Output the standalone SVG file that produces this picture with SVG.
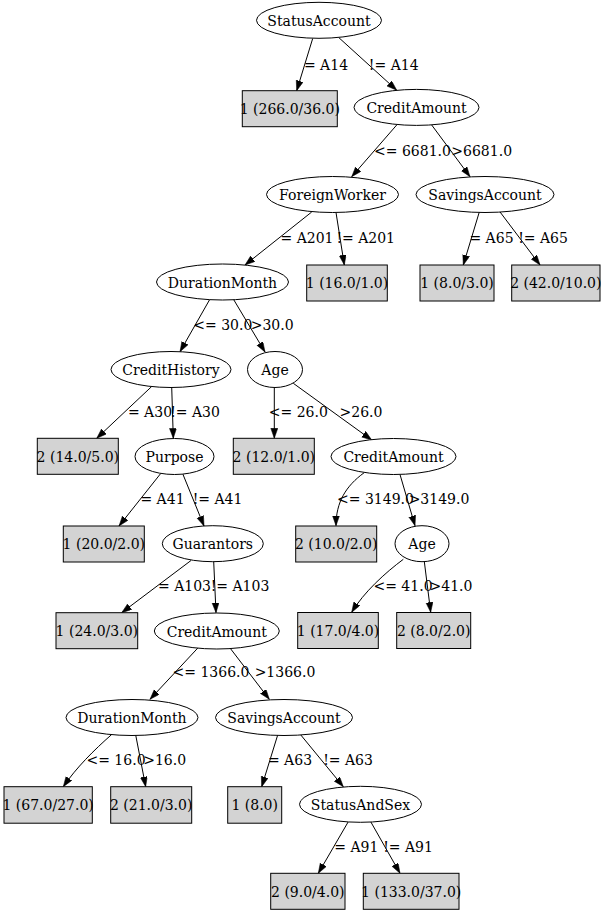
<svg xmlns="http://www.w3.org/2000/svg" width="604" height="914" viewBox="0 0 604 914">
  <style>
    text { font-family: "DejaVu Serif", "Liberation Serif", serif; font-size: 14px; fill: #000; text-anchor: middle; }
    .split ellipse { fill: #fff; stroke: #000; stroke-width: 1; }
    .leaf rect { fill: #d3d3d3; stroke: #000; stroke-width: 1; }
    #edges path { fill: none; stroke: #000; stroke-width: 1; marker-end: url(#arrow); }
  </style>
  <defs>
    <marker id="arrow" markerUnits="userSpaceOnUse" markerWidth="11" markerHeight="8" refX="10" refY="3.5" orient="auto">
      <path d="M0,0 L10,3.5 L0,7 z" fill="#000" stroke="#000" stroke-width="0.5"/>
    </marker>
  </defs>
  <rect width="604" height="914" fill="#fff"/>

  <!-- connectors -->
  <g id="edges">
    <path d="M312.7,38.5 L296.7,90.7"/>
    <path d="M338.7,37.5 L396.7,90.2"/>
    <path d="M396.7,125 L351.7,176.7"/>
    <path d="M431.7,125 L470,176.7"/>
    <path d="M311.7,212 L245,265"/>
    <path d="M336,212.5 L344.3,265"/>
    <path d="M479.3,212 L463.3,265"/>
    <path d="M499.3,211 L540,265"/>
    <path d="M210,299 L180,351.7"/>
    <path d="M233.3,299 L265,352"/>
    <path d="M151.7,386.5 L96.7,438.3"/>
    <path d="M171.7,386.8 L173.3,438.3"/>
    <path d="M274.3,387 L274.3,438.3"/>
    <path d="M293.3,383.3 L371.7,440"/>
    <path d="M160.7,473.5 L119,526"/>
    <path d="M182.7,473.7 L204,526"/>
    <path d="M364,472.8 C346,486 336,502 336,525.7"/>
    <path d="M400,474.5 L415,525.7"/>
    <path d="M191,560.5 L121.7,612.7"/>
    <path d="M213.7,561.5 L216,612.7"/>
    <path d="M403.3,559.3 C385,573 364,592 351.7,612.3"/>
    <path d="M424.3,561.5 L430.7,612.3"/>
    <path d="M198.3,647.5 L150,699.3"/>
    <path d="M230,648 L269.3,699.3"/>
    <path d="M111.7,734.5 C94,750 76,768 63.3,786.7"/>
    <path d="M135.7,735 L145.7,786.7"/>
    <path d="M277.7,735 L261.7,786.7"/>
    <path d="M300,734 L343.3,786.7"/>
    <path d="M348.3,821.7 L318.3,873.3"/>
    <path d="M370.7,821.7 L400,873.3"/>
  </g>

  <!-- edge labels -->
  <g id="edge-labels">
    <text x="326" y="69.5">= A14</text>
    <text x="393.7" y="69.5">!= A14</text>
    <text x="412.5" y="156">&lt;= 6681.0</text>
    <text x="481.7" y="156">&gt;6681.0</text>
    <text x="307" y="242.7">= A201</text>
    <text x="365.7" y="242.7">!= A201</text>
    <text x="491.5" y="242.7">= A65</text>
    <text x="543" y="242.7">!= A65</text>
    <text x="222.8" y="329.5">&lt;= 30.0</text>
    <text x="272.2" y="329.5">&gt;30.0</text>
    <text x="150" y="416.7">= A30</text>
    <text x="195" y="416.7">!= A30</text>
    <text x="298.3" y="416.7">&lt;= 26.0</text>
    <text x="361" y="416.7">&gt;26.0</text>
    <text x="162.5" y="504">= A41</text>
    <text x="217.5" y="504">!= A41</text>
    <text x="375.5" y="504">&lt;= 3149.0</text>
    <text x="439" y="504">&gt;3149.0</text>
    <text x="184.5" y="590.7">= A103</text>
    <text x="240" y="590.7">!= A103</text>
    <text x="403" y="590.7">&lt;= 41.0</text>
    <text x="451" y="590.7">&gt;41.0</text>
    <text x="211" y="677">&lt;= 1366.0</text>
    <text x="285" y="677">&gt;1366.0</text>
    <text x="116" y="764.5">&lt;= 16.0</text>
    <text x="164.7" y="764.5">&gt;16.0</text>
    <text x="290" y="764.5">= A63</text>
    <text x="348" y="764.5">!= A63</text>
    <text x="356.3" y="851.7">= A91</text>
    <text x="408" y="851.7">!= A91</text>
  </g>

  <!-- split nodes -->
  <g id="n0" class="split"><ellipse cx="319" cy="20.3" rx="62.5" ry="18"/><text x="319" y="26">StatusAccount</text></g>
  <g id="n2" class="split"><ellipse cx="416.5" cy="107.4" rx="62.5" ry="18"/><text x="416.5" y="113">CreditAmount</text></g>
  <g id="n3" class="split"><ellipse cx="332.5" cy="194.5" rx="66" ry="18"/><text x="332.5" y="200">ForeignWorker</text></g>
  <g id="n15" class="split"><ellipse cx="485" cy="194.5" rx="69" ry="18"/><text x="485" y="200">SavingsAccount</text></g>
  <g id="n4" class="split"><ellipse cx="222.5" cy="282" rx="66" ry="18"/><text x="222.5" y="287.5">DurationMonth</text></g>
  <g id="n5" class="split"><ellipse cx="171" cy="369.5" rx="60" ry="18"/><text x="171" y="375">CreditHistory</text></g>
  <g id="n6" class="split"><ellipse cx="275" cy="369.5" rx="27.5" ry="18"/><text x="275" y="375">Age</text></g>
  <g id="n7" class="split"><ellipse cx="174.5" cy="456.5" rx="39.5" ry="18"/><text x="174.5" y="462">Purpose</text></g>
  <g id="n8" class="split"><ellipse cx="393.5" cy="456.5" rx="62.5" ry="18"/><text x="393.5" y="462">CreditAmount</text></g>
  <g id="n9" class="split"><ellipse cx="212.8" cy="543.7" rx="50.5" ry="18"/><text x="212.8" y="549.2">Guarantors</text></g>
  <g id="n10" class="split"><ellipse cx="422" cy="543.7" rx="27" ry="18"/><text x="422" y="549.2">Age</text></g>
  <g id="n11" class="split"><ellipse cx="216.8" cy="631" rx="62.5" ry="18"/><text x="216.8" y="636.5">CreditAmount</text></g>
  <g id="n12" class="split"><ellipse cx="132" cy="717.5" rx="66" ry="18"/><text x="132" y="723">DurationMonth</text></g>
  <g id="n13" class="split"><ellipse cx="284" cy="717.5" rx="68.5" ry="18"/><text x="284" y="723">SavingsAccount</text></g>
  <g id="n14" class="split"><ellipse cx="360.5" cy="804.3" rx="61" ry="18"/><text x="360.5" y="809.8">StatusAndSex</text></g>

  <!-- leaf nodes -->
  <g id="n1" class="leaf"><rect x="242.3" y="90.7" width="95" height="36"/><text x="289.8" y="114">1 (266.0/36.0)</text></g>
  <g id="n16" class="leaf"><rect x="306.7" y="265" width="80.6" height="36"/><text x="347" y="288.3">1 (16.0/1.0)</text></g>
  <g id="n17" class="leaf"><rect x="420" y="265" width="74" height="36"/><text x="457" y="288.3">1 (8.0/3.0)</text></g>
  <g id="n18" class="leaf"><rect x="511.7" y="265" width="88.3" height="36"/><text x="555.8" y="288.3">2 (42.0/10.0)</text></g>
  <g id="n19" class="leaf"><rect x="37.3" y="438.3" width="81" height="36"/><text x="77.8" y="461.6">2 (14.0/5.0)</text></g>
  <g id="n20" class="leaf"><rect x="233.3" y="438.3" width="81" height="36"/><text x="273.8" y="461.6">2 (12.0/1.0)</text></g>
  <g id="n21" class="leaf"><rect x="63.3" y="526" width="81" height="36"/><text x="103.8" y="549.3">1 (20.0/2.0)</text></g>
  <g id="n22" class="leaf"><rect x="295.7" y="526" width="81" height="36"/><text x="336.2" y="549.3">2 (10.0/2.0)</text></g>
  <g id="n23" class="leaf"><rect x="56" y="612.7" width="81.7" height="36"/><text x="96.8" y="636">1 (24.0/3.0)</text></g>
  <g id="n24" class="leaf"><rect x="297.7" y="612.5" width="80.6" height="36"/><text x="338" y="635.8">1 (17.0/4.0)</text></g>
  <g id="n25" class="leaf"><rect x="396.7" y="612.5" width="74" height="36"/><text x="433.7" y="635.8">2 (8.0/2.0)</text></g>
  <g id="n26" class="leaf"><rect x="4" y="786.7" width="88.3" height="36.5"/><text x="48.1" y="810.2">1 (67.0/27.0)</text></g>
  <g id="n27" class="leaf"><rect x="110.7" y="786.7" width="81" height="36.5"/><text x="151.2" y="810.2">2 (21.0/3.0)</text></g>
  <g id="n28" class="leaf"><rect x="227.7" y="786.7" width="54" height="36.5"/><text x="254.7" y="810.2">1 (8.0)</text></g>
  <g id="n29" class="leaf"><rect x="270.7" y="873.3" width="74.3" height="36"/><text x="307.8" y="896.6">2 (9.0/4.0)</text></g>
  <g id="n30" class="leaf"><rect x="363.3" y="873.3" width="95.7" height="36"/><text x="411.2" y="896.6">1 (133.0/37.0)</text></g>
</svg>
